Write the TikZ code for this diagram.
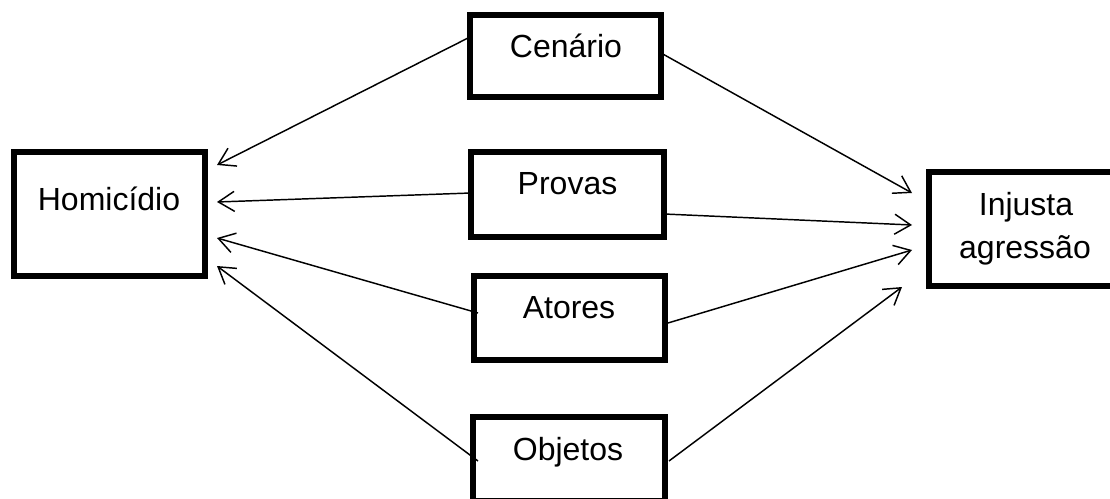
\documentclass[tikz,border=0pt]{standalone}
\usepackage{fontspec}
\setmainfont{Liberation Sans}
\usetikzlibrary{arrows.meta,calc}
\begin{document}
\begin{tikzpicture}[x=0.75pt,y=-0.75pt,
  box/.style={draw,line width=4.9pt,inner sep=0pt,outer sep=0pt},
  txt/.style={font=\fontsize{24pt}{32pt}\selectfont,anchor=base,inner sep=0pt},
  conn/.style={line width=1.1pt,-{Straight Barb[length=12pt,width=15pt,line width=1.1pt]}}]
\useasboundingbox (0,0) rectangle (1110,499);
\clip (0,0) rectangle (1110,499);
% boxes
\node[box,minimum width=143.25pt,minimum height=93pt] (hom) at (109.5,214) {};
\node[box,minimum width=143.25pt,minimum height=61.5pt] (cen) at (565.5,56) {};
\node[box,minimum width=144.75pt,minimum height=63.75pt] (pro) at (567.5,194.5) {};
\node[box,minimum width=143.25pt,minimum height=63pt] (ato) at (569.5,318) {};
\node[box,minimum width=144pt,minimum height=63pt] (obj) at (569,459) {};
\node[box,minimum width=147pt,minimum height=85.5pt] (inj) at (1027,229) {};
% texts
\node[txt] (homT) at (109,210) {Homicídio};
\node[txt] (cenT) at (566,58) {Cenário};
\node[txt] (proT) at (567.5,195) {Provas};
\node[txt] (atoT) at (569,318) {Atores};
\node[txt] (objT) at (568,460) {Objetos};
\node[txt] (injT1) at (1026,215) {Injusta};
\node[txt] (injT2) at (1025,258) {agressão};
% connectors to Homicidio
\draw[conn] ($(cen.west)+(0,-19)$) -- ($(hom.east)+(12,-49)$);
\draw[conn] ($(pro.west)+(0,-1.5)$) -- ($(hom.east)+(12,-12)$);
\draw[conn] ($(ato.west)+(4,-5)$) -- ($(hom.east)+(12,24)$);
\draw[conn] ($(obj.west)+(5,2)$) -- ($(hom.east)+(12,52)$);
% connectors to Injusta agressao
\draw[conn] ($(cen.east)+(0,-3)$) -- ($(inj.west)+(-17,-36)$);
\draw[conn] ($(pro.east)+(0,19.5)$) -- ($(inj.west)+(-17,-4)$);
\draw[conn] ($(ato.east)+(3,5)$) -- ($(inj.west)+(-17,21)$);
\draw[conn] ($(obj.east)+(4,2)$) -- ($(inj.west)+(-27,58)$);
\end{tikzpicture}
\end{document}
